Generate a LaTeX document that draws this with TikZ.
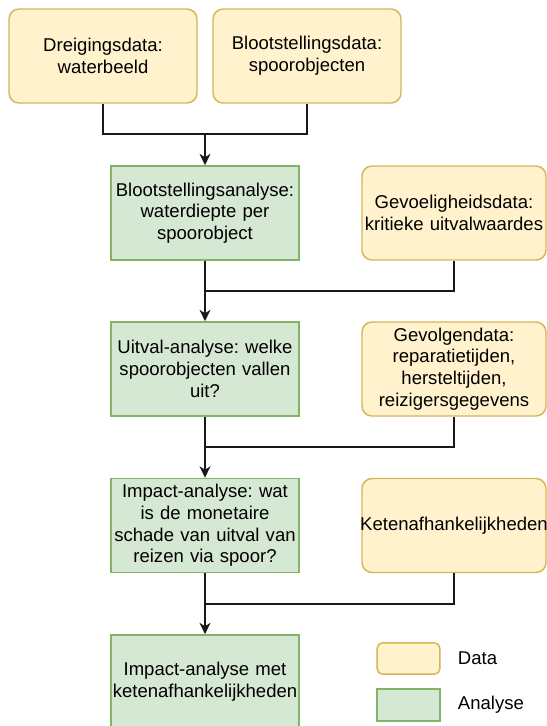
\documentclass[tikz,border=0pt]{standalone}
\usepackage{fontspec}
\setmainfont{Liberation Sans}
\usepackage{tikz}
\usetikzlibrary{arrows.meta}
\definecolor{datafill}{HTML}{FFF2CC}
\definecolor{dataline}{HTML}{D6B656}
\definecolor{analysefill}{HTML}{D5E8D4}
\definecolor{analyseline}{HTML}{82B366}
\frenchspacing
\tikzset{
>={Stealth[length=8.5pt, width=8pt, inset=2.5pt]}, % block arrow heads
x=0.75pt, y=-0.75pt, % coordinates are pixels of the original, y down
every node/.style={font=\fontsize{13.9pt}{16.3pt}\selectfont, align=center, inner sep=2pt},
data/.style={draw=dataline, fill=datafill, line width=1.1pt, rounded corners=7.5pt, minimum height=70.5pt}, % yellow data boxes
analyse/.style={draw=analyseline, fill=analysefill, line width=1.1pt, minimum height=70.5pt, text width=137pt}, % green analysis steps
left/.style={text width=137pt},
right/.style={text width=134pt},
flow/.style={line width=1.5pt, draw=black!90},
}
\begin{document}
\begin{tikzpicture}
            \useasboundingbox (0,0) rectangle (547,726);
            % data in the first row
            \node[data, left] (dreiging) at (103,56) {Dreigingsdata:\\waterbeeld};
            \node[data, left] (blootdata) at (307,56) {Blootstellingsdata:\\spoorobjecten};
            % analysis chain
            \node[analyse] (blootanalyse) at (205,213) {Blootstellingsanalyse:\\waterdiepte per\\spoorobject};
            \node[analyse] (uitval) at (205,369) {Uitval-analyse: welke\\spoorobjecten vallen\\uit?};
            \node[analyse] (impact) at (205,525.5) {Impact-analyse: wat\\is de monetaire\\schade van uitval van\\reizen via spoor?};
            \node[analyse] (ketenimpact) at (205,682) {Impact-analyse met\\\makebox[137pt][c]{ketenafhankelijkheden}};
            % data on the right
            \node[data, right] (gevoelig) at (454,213) {Gevoeligheidsdata:\\kritieke uitvalwaardes};
            \node[data, right] (gevolg) at (454,369) {Gevolgendata:\\reparatietijden,\\hersteltijden,\\reizigersgegevens};
            \node[data, right] (keten) at (454,525.5) {\makebox[134pt][c]{Ketenafhankelijkheden}};
            % joins
            \coordinate (j1) at (205,134);
            \coordinate (j2) at (205,291);
            \coordinate (j3) at (205,447);
            \coordinate (j4) at (205,604);
            \draw[flow] (dreiging) |- (j1) -| (blootdata);
            \draw[flow, ->] (j1) -- (blootanalyse);
            \draw[flow, ->] (blootanalyse) -- (uitval);
            \draw[flow, ->] (uitval) -- (impact);
            \draw[flow, ->] (impact) -- (ketenimpact);
            \draw[flow] (gevoelig) |- (j2);
            \draw[flow] (gevolg) |- (j3);
            \draw[flow] (keten) |- (j4);
            % legend
            \node[data, rounded corners=4pt, minimum width=47pt, minimum height=23.5pt] (legdata) at (408.5,658.5) {};
            \node[analyse, text width={}, minimum width=47pt, minimum height=24pt] (leganalyse) at (408.5,705) {};
            \node[anchor=west] (legdatatxt) at (455,658) {Data};
            \node[anchor=west] (leganalysetxt) at (455,705) {Analyse};
\end{tikzpicture}
\end{document}
